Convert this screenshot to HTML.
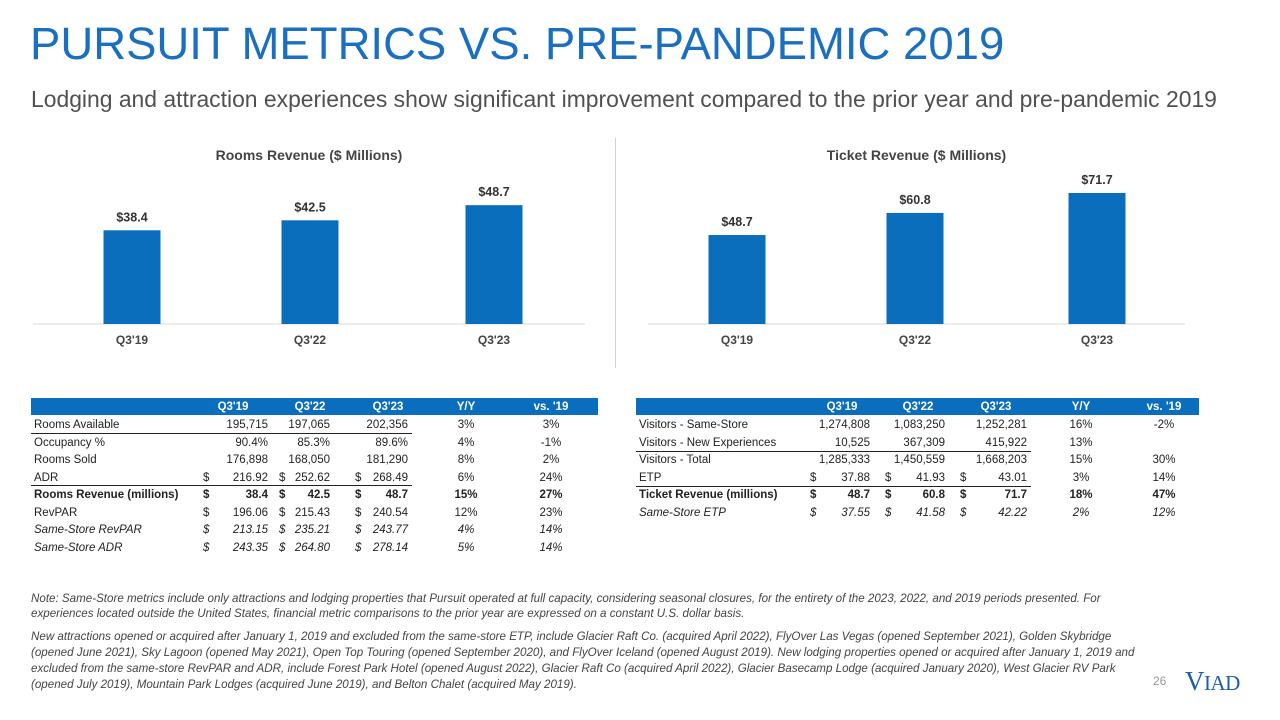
<!DOCTYPE html>
<html><head><meta charset="utf-8">
<style>
body{margin:0;width:1280px;height:720px;background:#fff;position:relative;overflow:hidden;font-family:"Liberation Sans",sans-serif;color:#222}
.abs{position:absolute;white-space:nowrap}
#title{left:30px;top:18px;font-size:45.5px;color:#1a6fc1;letter-spacing:0px}
#sub{left:31px;top:86px;font-size:22.9px;color:#505050}
.hdr{position:absolute;height:17px;background:#0a6ebd}
.cell{position:absolute;white-space:nowrap;line-height:14px}
.h{color:#fff;font-weight:bold}
.note{left:31px;font-size:11.6px;font-style:italic;color:#444}
</style></head><body>
<div id="title" class="abs">PURSUIT METRICS VS. PRE-PANDEMIC 2019</div>
<div id="sub" class="abs">Lodging and attraction experiences show significant improvement compared to the prior year and pre-pandemic 2019</div>
<div class="abs" style="left:615px;top:138px;width:1px;height:230px;background:#d0d0d0"></div>
<svg id="chart" width="1280" height="380" style="position:absolute;left:0;top:0"></svg>
<div id="tables"></div>
<div class="abs note" style="top:592px">Note: Same-Store metrics include only attractions and lodging properties that Pursuit operated at full capacity, considering seasonal closures, for the entirety of the 2023, 2022, and 2019 periods presented. For</div>
<div class="abs note" style="top:607px">experiences located outside the United States, financial metric comparisons to the prior year are expressed on a constant U.S. dollar basis.</div>
<div class="abs note" style="top:630px">New attractions opened or acquired after January 1, 2019 and excluded from the same-store ETP, include Glacier Raft Co. (acquired April 2022), FlyOver Las Vegas (opened September 2021), Golden Skybridge</div>
<div class="abs note" style="top:646px">(opened June 2021), Sky Lagoon (opened May 2021), Open Top Touring (opened September 2020), and FlyOver Iceland (opened August 2019). New lodging properties opened or acquired after January 1, 2019 and</div>
<div class="abs note" style="top:662px">excluded from the same-store RevPAR and ADR, include Forest Park Hotel (opened August 2022), Glacier Raft Co (acquired April 2022), Glacier Basecamp Lodge (acquired January 2020), West Glacier RV Park</div>
<div class="abs note" style="top:678px">(opened July 2019), Mountain Park Lodges (acquired June 2019), and Belton Chalet (acquired May 2019).</div>
<div class="abs" style="left:1153px;top:674px;font-size:12px;color:#999">26</div>
<div class="abs" style="left:1185px;top:666px;font-family:'Liberation Serif',serif;font-size:21px;color:#1a5ea8;letter-spacing:-0.5px"><span style="font-size:27px">V</span>IAD</div>
<script>
const cats=["Q3'19","Q3'22","Q3'23"];
const rooms=[38.4,42.5,48.7];
const tickets=[48.7,60.8,71.7];
const NS="http://www.w3.org/2000/svg";
const svg=document.getElementById('chart');
function mk(t,a,txt){const e=document.createElementNS(NS,t);for(const k in a)e.setAttribute(k,a[k]);if(txt!==undefined)e.textContent=txt;svg.appendChild(e);return e;}
function chart(vals,title,x0,x1,centers,scale,name){
  const base=324;
  const t=mk('text',{x:(x0+x1)/2,y:160,'text-anchor':'middle','font-size':14,'font-weight':'bold',fill:'#444','font-family':'Liberation Sans'},title);
  
  
  const ax=mk('line',{x1:x0,x2:x1,y1:base,y2:base,stroke:'#d9d9d9'});
  
  
  vals.forEach((v,i)=>{
    const h=v*scale,cx=centers[i];
    const b=mk('rect',{x:cx-28.5,y:base-h,width:57,height:h,fill:'#0a6ebd'});
    
    
    const l=mk('text',{x:cx,y:base-h-9,'text-anchor':'middle','font-size':12.5,'font-weight':'bold',fill:'#333','font-family':'Liberation Sans'},'$'+v.toFixed(1));
    
    
    const c=mk('text',{x:cx,y:344,'text-anchor':'middle','font-size':12,'font-weight':'bold',fill:'#444','font-family':'Liberation Sans'},cats[i]);
    
    
  });
}
chart(rooms,"Rooms Revenue ($ Millions)",33,585,[132,310,494],2.44,'rooms');
chart(tickets,"Ticket Revenue ($ Millions)",648,1185,[737,915,1097],1.827,'ticket');

const roomRows=[["Rooms Available","","195,715","","197,065","","202,356","3%","3%",0],
["Occupancy %","","90.4%","","85.3%","","89.6%","4%","-1%",0],
["Rooms Sold","","176,898","","168,050","","181,290","8%","2%",0],
["ADR","$","216.92","$","252.62","$","268.49","6%","24%",0],
["Rooms Revenue (millions)","$","38.4","$","42.5","$","48.7","15%","27%",1],
["RevPAR","$","196.06","$","215.43","$","240.54","12%","23%",0],
["Same-Store RevPAR","$","213.15","$","235.21","$","243.77","4%","14%",2],
["Same-Store ADR","$","243.35","$","264.80","$","278.14","5%","14%",2]];
const tixRows=[["Visitors - Same-Store","","1,274,808","","1,083,250","","1,252,281","16%","-2%",0],
["Visitors - New Experiences","","10,525","","367,309","","415,922","13%","",0],
["Visitors - Total","","1,285,333","","1,450,559","","1,668,203","15%","30%",0],
["ETP","$","37.88","$","41.93","$","43.01","3%","14%",0],
["Ticket Revenue (millions)","$","48.7","$","60.8","$","71.7","18%","47%",1],
["Same-Store ETP","$","37.55","$","41.58","$","42.22","2%","12%",2]];
const T=document.getElementById('tables');
function div(css,txt,name,cls){const d=document.createElement('div');d.className='cell '+(cls||'');d.style.cssText=css;d.textContent=txt;
 
 
 T.appendChild(d);return d;}
function table(rows,L,R,cols,lines,name){
  const h=document.createElement('div');h.className='hdr';h.style.cssText=`left:${L}px;top:398px;width:${R-L}px`;
  
  
  T.appendChild(h);
  const hd=["Q3'19","Q3'22","Q3'23","Y/Y","vs. '19"];
  const hx=[cols.h[0],cols.h[1],cols.h[2],cols.y,cols.w];
  hd.forEach((t,i)=>div(`left:${hx[i]-30}px;width:60px;text-align:center;top:400px;font-size:11.5px`,t,name+'-header-cell','h'));
  rows.forEach((r,i)=>{
    const y=418+i*17.5;
    const st=r[9]==1?'font-weight:bold;':r[9]==2?'font-style:italic;':'';
    const f=`top:${y}px;font-size:11.5px;${st}`;
    div(`left:${L+3}px;`+f,r[0],name+'-row-label');
    for(let k=0;k<3;k++){
      if(r[1+2*k])div(`left:${cols.d[k]}px;`+f,'$',name+'-dollar');
      div(`left:${cols.v[k]-80}px;width:80px;text-align:right;`+f,r[2+2*k],name+'-value');
    }
    div(`left:${cols.y-30}px;width:60px;text-align:center;`+f,r[7],name+'-yoy');
    div(`left:${cols.w-30}px;width:60px;text-align:center;`+f,r[8],name+'-vs19');
  });
  lines.forEach(y=>{const l=document.createElement('div');l.style.cssText=`position:absolute;left:${L}px;top:${y}px;width:${cols.v[2]+4-L}px;height:1px;background:#222`;
    
    
    T.appendChild(l);});
}
table(roomRows,31,598,{h:[233,310,388],d:[203,279,355],v:[268,330,408],y:466,w:551},[433,485],'rooms-table');
table(tixRows,636,1199,{h:[842,918,996],d:[810,885,960],v:[870,945,1027],y:1081,w:1164},[451,486],'ticket-table');
</script>
</body></html>
